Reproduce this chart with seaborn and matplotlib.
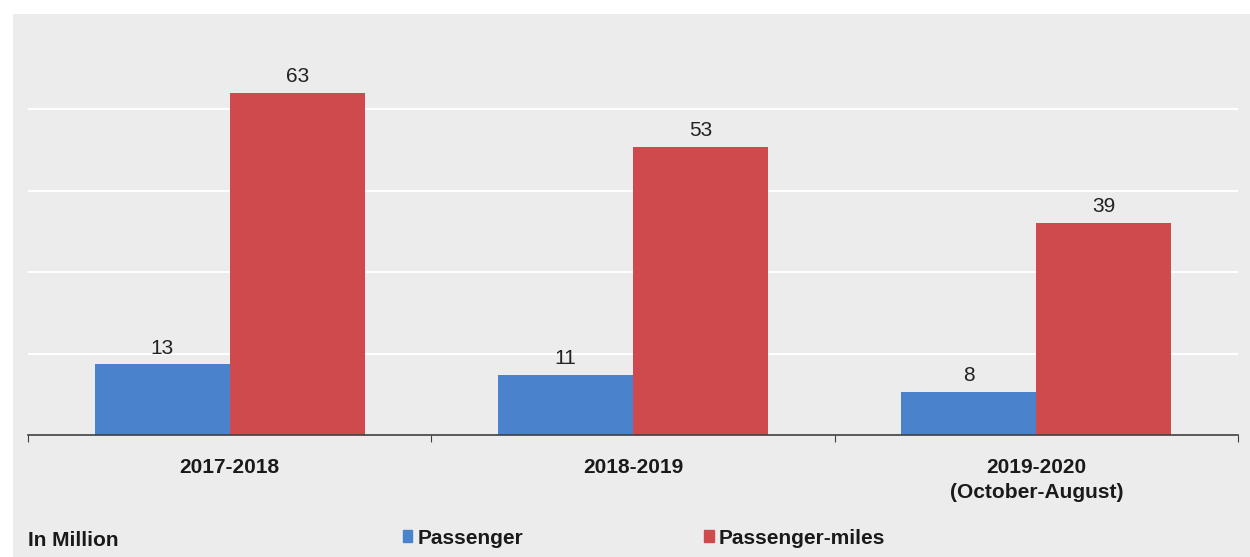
import matplotlib
matplotlib.use("Agg")
import matplotlib.pyplot as plt
import matplotlib.patches as mpatches
import seaborn as sns
import pandas as pd

# data (in million)
periods = ["2017-2018", "2018-2019", "2019-2020\n(October-August)"]
passenger = [13, 11, 8]
passenger_miles = [63, 53, 39]
series_names = ["Passenger", "Passenger-miles"]
colors = ["#4a82cc", "#cf4a4c"]

df = pd.DataFrame({
    "period": periods * 2,
    "value": passenger + passenger_miles,
    "series": [series_names[0]] * 3 + [series_names[1]] * 3,
})

sns.set_style("white")
plt.rcParams["font.family"] = ["Liberation Sans", "DejaVu Sans"]

fig = plt.figure(figsize=(12.5, 5.57), dpi=100, facecolor="white")
# grey panel behind the chart
fig.patches.append(mpatches.Rectangle((13 / 1250, 0), 1 - 13 / 1250, 1 - 14 / 557,
                                      transform=fig.transFigure, facecolor="#ececec",
                                      edgecolor="none", zorder=-10))
ax = fig.add_axes([28 / 1250, 122 / 557, 1210 / 1250, 407 / 557])
ax.set_facecolor("none")

sns.barplot(data=df, x="period", y="value", hue="series", palette=colors,
            width=0.67, saturation=1, linewidth=0, ax=ax, legend=False)

ax.set_ylim(0, 75)
ax.set_xlim(-0.5, 2.5)
ax.set_yticks([15, 30, 45, 60])
ax.yaxis.grid(True, color="white", linewidth=1.5)
ax.set_axisbelow(True)
ax.tick_params(axis="y", left=False, labelleft=False)

for s in ["top", "right", "left"]:
    ax.spines[s].set_visible(False)
ax.spines["bottom"].set_color("#404040")
ax.spines["bottom"].set_linewidth(1.2)

# category labels, ticks between groups
ax.set_xticks([-0.5, 0.5, 1.5, 2.5], minor=False)
ax.set_xticklabels([])
ax.tick_params(axis="x", direction="out", length=5, color="#404040", bottom=True)
for i, p in enumerate(periods):
    ax.text(i, -4.3, p, ha="center", va="top", fontsize=15, fontweight="bold",
            linespacing=1.35, color="#1a1a1a")
ax.set_xlabel("")
ax.set_ylabel("")

for cont in ax.containers:
    ax.bar_label(cont, fmt="%d", padding=5, fontsize=15, color="#222222")

# footer
fig.text(28 / 1250, 1 - 541 / 557, "In Million", ha="left", va="center",
         fontsize=15, fontweight="bold", color="#1a1a1a")
handles = [mpatches.Patch(color=c, label=n) for c, n in zip(colors, series_names)]
leg = fig.legend(handles=handles, loc="center left", bbox_to_anchor=(384 / 1250, 1 - 538 / 557),
                 ncol=2, frameon=False, handlelength=0.45, handleheight=0.45,
                 handletextpad=0.25, columnspacing=8.7,
                 prop={"size": 15, "weight": "bold"})
for t in leg.get_texts():
    t.set_color("#1a1a1a")

fig.savefig("out.png", dpi=100, facecolor="white")
